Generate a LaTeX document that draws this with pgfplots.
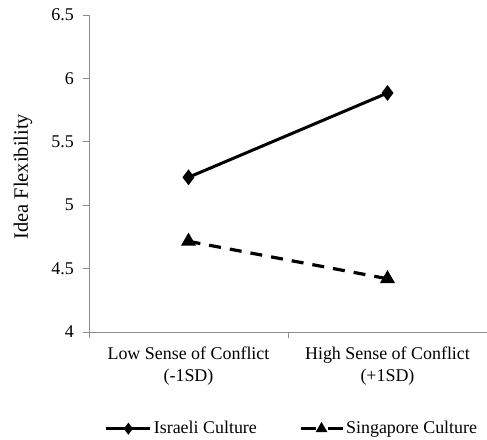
\documentclass[border=0pt]{standalone}
\usepackage{pgfplots}
\pgfplotsset{compat=1.18}
\usepackage{fontspec}
\setmainfont{Liberation Serif}
\definecolor{axgray}{RGB}{140,140,140}
\pgfplotsset{
  dashleg/.style={legend image code/.code={
    \draw[##1, dash pattern=on 15bp off 12bp, mark repeat=2, mark phase=2, mark options={scale=0.65, solid}] plot coordinates {(0bp,0bp) (21bp,0bp) (42bp,0bp)};
  }},
}
\begin{document}
\fontsize{18}{21}\selectfont
\begin{tikzpicture}[x=1bp,y=1bp]
\useasboundingbox (-89bp,-108bp) rectangle (398bp,332bp);
\begin{axis}[
  scale only axis,
  width=398bp, height=317bp,
  at={(0,0)}, anchor=south west,
  xmin=-0.5, xmax=1.5,
  ymin=4, ymax=6.5,
  ytick={4,4.5,5,5.5,6,6.5},
  yticklabels={4,4.5,5,5.5,6,6.5},
  xtick={0,1},
  xticklabels={{Low Sense of Conflict\\(-1SD)},{High Sense of Conflict\\(+1SD)}},
  xticklabel style={align=center, font=\fontsize{18}{22}\selectfont, yshift=-3bp},
  yticklabel style={font=\fontsize{18}{21}\selectfont, xshift=-3bp},
  minor xtick={-0.5,0.5,1.5},
  major tick length=6bp, minor tick length=6bp,
  every major x tick/.append style={draw=none},
  every minor x tick/.append style={draw=axgray},
  ytick style={draw=axgray},
  tick align=outside,
  axis x line*=bottom, axis y line*=left,
  axis line style={draw=axgray, line width=0.8pt, -},
  tick style={line width=0.8pt},
  ylabel={Idea Flexibility},
  ylabel style={font=\fontsize{20.5}{22}\selectfont, at={(axis description cs:-0.166,0.49)}, anchor=center},
  /pgf/number format/assume math mode=true,
  clip=false,
  legend columns=2,
  legend style={at={(axis description cs:0.51,-0.305)}, anchor=center, draw=none, fill=none,
    font=\fontsize{18}{20}\selectfont, /tikz/every even column/.append style={column sep=40bp}},
  legend image code/.code={
    \draw[#1, mark repeat=2, mark phase=2, mark options={scale=0.65}] plot coordinates {(0bp,0bp) (22bp,0bp) (44bp,0bp)};
  },
]
\addplot[black, line width=3bp, mark=diamond*, mark size=5.5bp, mark options={solid}]
  coordinates {(0,5.22) (1,5.885)};
\addlegendentry{Israeli Culture}
\addplot[black, line width=3.2bp, dash pattern=on 12bp off 9bp, mark=triangle*, mark size=5.5bp, mark options={solid}, dashleg]
  coordinates {(0,4.715) (1,4.42)};
\addlegendentry{Singapore Culture}
\end{axis}
\end{tikzpicture}
\end{document}
